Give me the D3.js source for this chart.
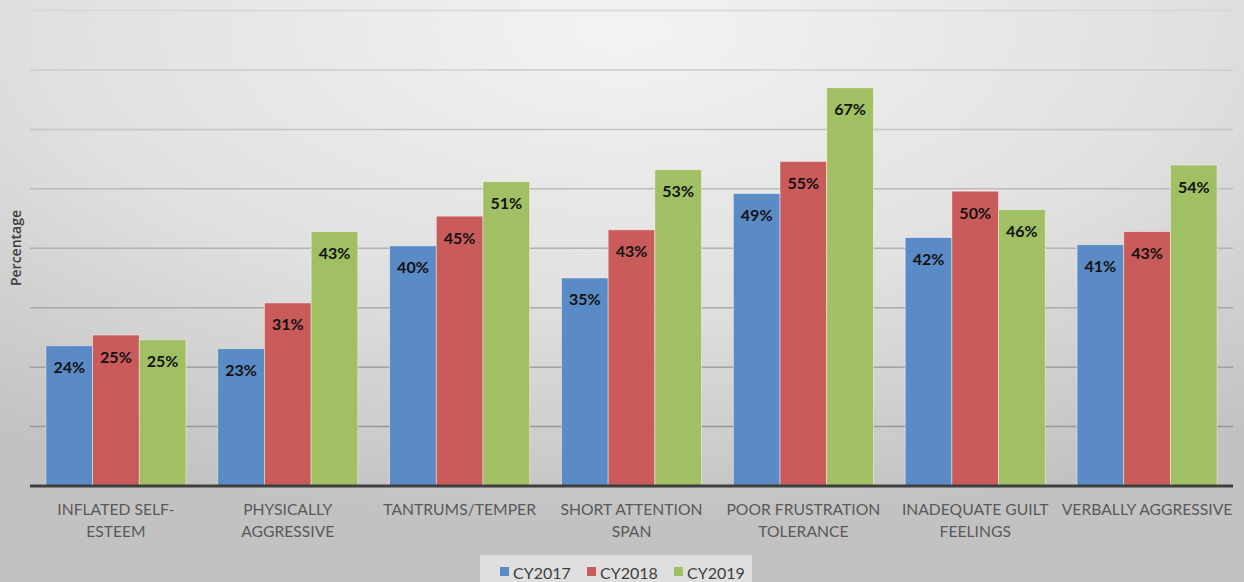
<!DOCTYPE html>
<html>
<head>
<meta charset="utf-8">
<script src="https://cdn.jsdelivr.net/npm/d3@7"></script>
<style>
  html, body { margin: 0; padding: 0; }
  body { width: 1244px; height: 582px; overflow: hidden; }
  svg { display: block; }
</style>
</head>
<body>
<div id="chart"></div>
<script>
// ---- data ----
const categories = [
  "INFLATED SELF-|ESTEEM",
  "PHYSICALLY|AGGRESSIVE",
  "TANTRUMS/TEMPER",
  "SHORT ATTENTION|SPAN",
  "POOR FRUSTRATION|TOLERANCE",
  "INADEQUATE GUILT|FEELINGS",
  "VERBALLY AGGRESSIVE"
];
const seriesNames = ["CY2017", "CY2018", "CY2019"];
const cy2017 = [23.6, 23.1, 40.4, 35.0, 49.2, 41.8, 40.6];
const cy2018 = [25.4, 30.8, 45.4, 43.1, 54.6, 49.6, 42.8];
const cy2019 = [24.6, 42.8, 51.2, 53.2, 67.0, 46.5, 54.0];
const labels2017 = ["24%", "23%", "40%", "35%", "49%", "42%", "41%"];
const labels2018 = ["25%", "31%", "45%", "43%", "55%", "50%", "43%"];
const labels2019 = ["25%", "43%", "51%", "53%", "67%", "46%", "54%"];
const yTicks = [0, 10, 20, 30, 40, 50, 60, 70, 80];
const yTitle = "Percentage";

// ---- layout ----
const W = 1244, H = 582;
const margin = { left: 30, right: 11, top: 10.5, bottom: 96 };
const colors = ["#5b8bc6", "#c95b5b", "#a0c063"];
const seriesValues = [cy2017, cy2018, cy2019];
const seriesLabels = [labels2017, labels2018, labels2019];
const FONT = "Lato, 'Open Sans', sans-serif";

const svg = d3.select("#chart").append("svg")
  .attr("width", W).attr("height", H);

const defs = svg.append("defs");
const grad = defs.append("radialGradient")
  .attr("id", "bg").attr("cx", "50%").attr("cy", "5%").attr("r", "85%")
  .attr("fx", "50%").attr("fy", "5%");
grad.append("stop").attr("offset", "0%").attr("stop-color", "#f3f3f3");
grad.append("stop").attr("offset", "55%").attr("stop-color", "#e0e0e0");
grad.append("stop").attr("offset", "100%").attr("stop-color", "#c2c2c2");

svg.append("rect").attr("width", W).attr("height", H).attr("fill", "url(#bg)");

const x0 = d3.scaleBand()
  .domain(categories)
  .range([margin.left, W - margin.right])
  .paddingInner(0.185)
  .paddingOuter(0.0925);

const x1 = d3.scaleBand()
  .domain(seriesNames)
  .range([0, x0.bandwidth()])
  .padding(0);

const y = d3.scaleLinear()
  .domain([0, 80])
  .range([486, margin.top]);

const gridColor = d3.scaleLinear().domain([80, 0]).range(["#d6d6d6", "#8e8e8e"]);

// gridlines
svg.append("g").selectAll("line")
  .data(yTicks.filter(d => d > 0))
  .join("line")
  .attr("x1", margin.left).attr("x2", W - margin.right)
  .attr("y1", d => y(d)).attr("y2", d => y(d))
  .attr("stroke", d => gridColor(d))
  .attr("stroke-width", 1.5);

// bars
const groups = svg.append("g").selectAll("g")
  .data(categories)
  .join("g")
  .attr("transform", d => `translate(${x0(d)},0)`);

groups.each(function(cat, ci) {
  const g = d3.select(this);
  seriesNames.forEach((s, si) => {
    const v = seriesValues[si][ci];
    g.append("rect")
      .attr("x", x1(s))
      .attr("y", y(v))
      .attr("width", x1.bandwidth())
      .attr("height", y(0) - y(v))
      .attr("fill", colors[si])
      .attr("stroke", "rgba(255,255,255,0.55)")
      .attr("stroke-width", 0.8);
    g.append("text")
      .attr("x", x1(s) + x1.bandwidth() / 2)
      .attr("y", y(v) + 27.5)
      .attr("text-anchor", "middle")
      .attr("font-family", FONT)
      .attr("font-weight", "bold")
      .attr("font-size", 16)
      .attr("fill", "#111")
      .text(seriesLabels[si][ci]);
  });
});

// baseline axis
const xAxis = d3.axisBottom(x0).tickSize(0).tickFormat("");
const axisG = svg.append("g").attr("transform", `translate(0,${y(0)})`).call(xAxis);
axisG.select(".domain").attr("stroke", "#3f3f3f").attr("stroke-width", 3)
  .attr("d", `M${margin.left},0H${W - margin.right}`);

// category labels
categories.forEach(cat => {
  const lines = cat.split("|");
  const t = svg.append("text")
    .attr("x", x0(cat) + x0.bandwidth() / 2)
    .attr("y", 515)
    .attr("text-anchor", "middle")
    .attr("font-family", FONT)
    .attr("font-size", 15.7)
    .attr("fill", "#595959");
  lines.forEach((ln, i) => {
    t.append("tspan")
      .attr("x", x0(cat) + x0.bandwidth() / 2)
      .attr("dy", i === 0 ? 0 : 22)
      .text(ln);
  });
});

// y title
svg.append("text")
  .attr("transform", `translate(21,248) rotate(-90)`)
  .attr("text-anchor", "middle")
  .attr("font-family", "'Open Sans', Lato, sans-serif")
  .attr("font-weight", 600)
  .attr("font-size", 14)
  .attr("fill", "#404040")
  .text(yTitle);

// legend
const legend = svg.append("g");
legend.append("rect")
  .attr("x", 480).attr("y", 555).attr("width", 272).attr("height", 30)
  .attr("fill", "#e6e6e6").attr("opacity", 0.8);
const legendX = [500, 587, 674];
seriesNames.forEach((s, i) => {
  legend.append("rect")
    .attr("x", legendX[i]).attr("y", 567)
    .attr("width", 9).attr("height", 9)
    .attr("fill", colors[i]);
  legend.append("text")
    .attr("x", legendX[i] + 13).attr("y", 578.5)
    .attr("font-family", FONT)
    .attr("font-size", 16)
    .attr("fill", "#404040")
    .text(s);
});
</script>
</body>
</html>
